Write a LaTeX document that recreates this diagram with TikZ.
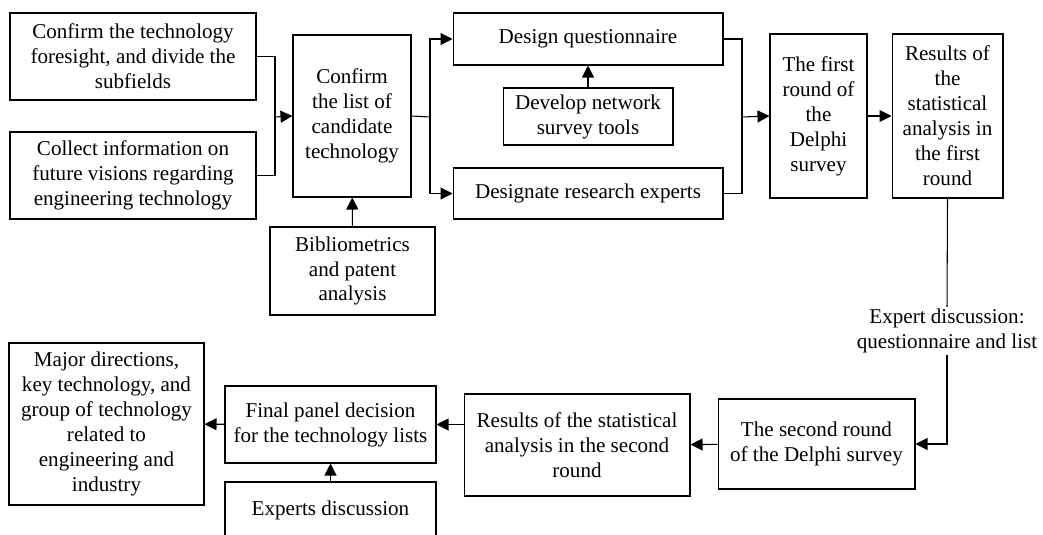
\documentclass[tikz,border=0pt]{standalone}
\usepackage{fontspec}
\setmainfont{Liberation Serif}
\usepackage{tikz}
\usetikzlibrary{arrows.meta}

\begin{document}
\begin{tikzpicture}[x=0.02cm,y=-0.02cm,
	font=\fontsize{12pt}{14.2pt}\selectfont,
	box/.style={shape=rectangle,draw=black,line width=0.6pt,align=center,inner sep=1pt},
	arr/.style={line width=0.6pt,-{Triangle[length=2.4mm,width=2.4mm]}},
	ln/.style={line width=0.6pt}]
	\useasboundingbox (0,0) rectangle (1043,534);

	\node[box,minimum width=4.92cm,minimum height=1.74cm] (found) at (133, 56.5)   {Confirm the technology\\foresight, and divide the\\subfields};
	\node[box,minimum width=4.92cm,minimum height=1.74cm] (collect) at (133, 175.5) {Collect information on\\future visions regarding\\engineering technology};
	\node[box,minimum width=2.36cm,minimum height=3.24cm] (cand) at (352, 116)    {Confirm\\the list of\\candidate\\technology};
	\node[box,minimum width=3.30cm,minimum height=1.76cm] (biblio) at (352.5, 271) {Bibliometrics\\and patent\\analysis};
	\node[box,minimum width=5.40cm,minimum height=1.04cm] (quest) at (588, 39)     {Design questionnaire};
	\node[box,minimum width=3.40cm,minimum height=1.14cm] (tools) at (588, 116.5)  {Develop network\\survey tools};
	\node[box,minimum width=5.40cm,minimum height=1.02cm] (experts) at (588, 193.5) {Designate research experts};
	\node[box,minimum width=1.94cm,minimum height=3.28cm] (round1) at (818.5, 116) {The first\\round of\\the\\Delphi\\survey};
	\node[box,minimum width=2.22cm,minimum height=3.28cm] (res1) at (947.5, 116)   {Results of\\the\\statistical\\analysis in\\the first\\round};
	\node[align=center,inner sep=1pt] (disc) at (947, 331)                         {Expert discussion:\\questionnaire and list};
	\node[box,minimum width=3.94cm,minimum height=1.80cm] (round2) at (816.5, 444) {The second round\\of the Delphi survey};
	\node[box,minimum width=4.52cm,minimum height=2.04cm] (res2) at (577, 445)     {Results of the statistical\\analysis in the second\\round};
	\node[box,minimum width=4.22cm,minimum height=1.54cm] (panel) at (330.5, 424.5) {Final panel decision\\for the technology lists};
	\node[box,minimum width=3.90cm,minimum height=3.24cm] (major) at (106.5, 424)  {Major directions,\\key technology, and\\group of technology\\related to\\engineering and\\industry};
	\node[box,minimum width=4.22cm,minimum height=1.12cm] (edisc) at (330.5, 510)  {Experts discussion};

	\coordinate (m1) at (275, 117);
	\coordinate (m2) at (430, 117);
	\coordinate (m3) at (742, 117);

	\draw[ln] (found.east) -| (m1);
	\draw[ln] (collect.east) -| (m1);
	\path[arr] (m1) edge (cand.west);
	\path[arr] (biblio) edge (cand);
	\draw[ln] (cand.east) -- (m2);
	\draw[arr] (m2) |- (quest.west);
	\draw[arr] (m2) |- (experts.west);
	\path[arr] (tools) edge (quest);
	\draw[ln] (quest.east) -| (m3);
	\draw[ln] (experts.east) -| (m3);
	\path[arr] (m3) edge (round1.west);
	\path[arr] (round1) edge (res1);
	\draw[ln] (res1.south) -- (disc.north);
	\draw[arr] (disc.south) |- (round2.east);
	\path[arr] (round2) edge (res2);
	\draw[arr] (panel.east -| res2.west) -- (panel.east);
	\path[arr] (panel) edge (major);
	\path[arr] (edisc) edge (panel);

\end{tikzpicture}
\end{document}
